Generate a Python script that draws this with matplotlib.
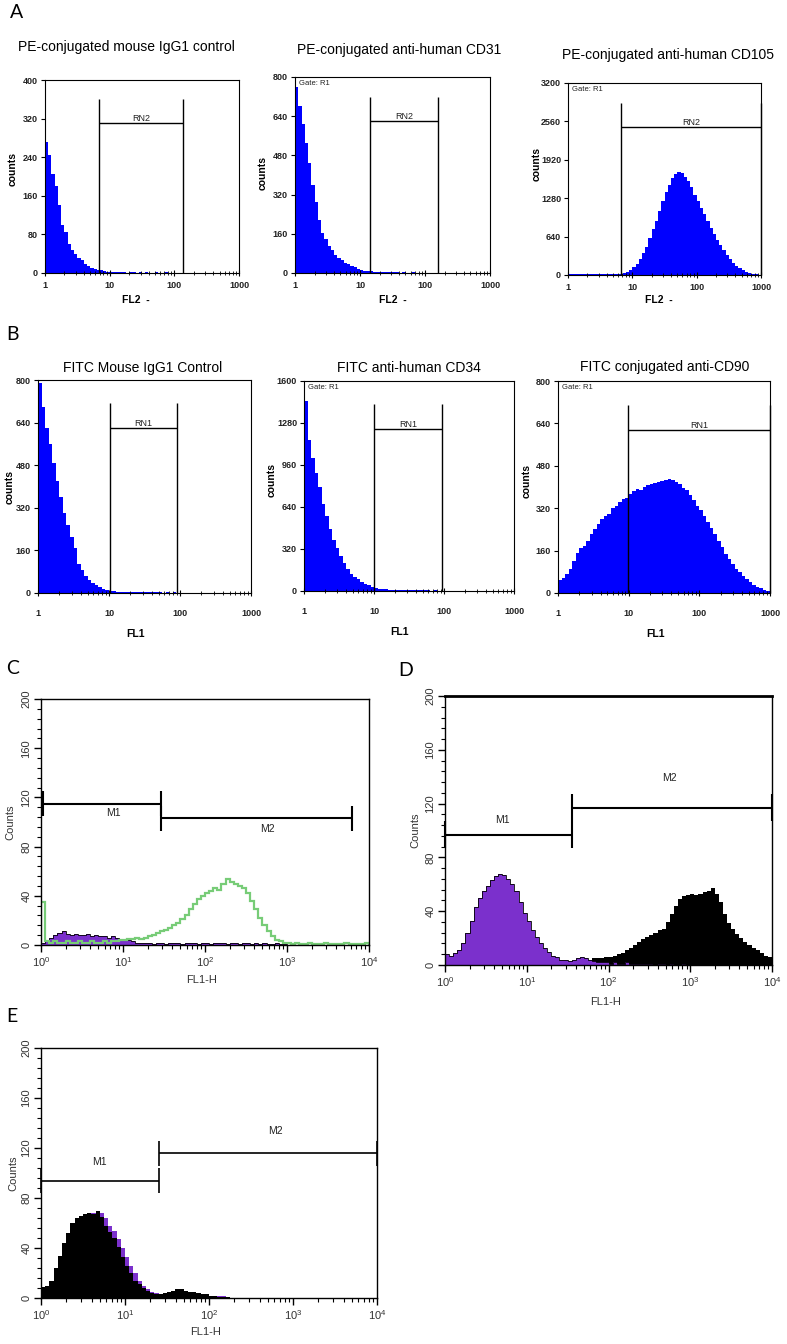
#!/usr/bin/env python

import numpy as np
import matplotlib
matplotlib.use("Agg")
import matplotlib.pyplot as plt
from matplotlib.ticker import MultipleLocator, LogLocator, NullFormatter

plt.rcParams["font.family"] = ["Liberation Sans", "DejaVu Sans"]
plt.rcParams["mathtext.fontset"] = "custom"
plt.rcParams["mathtext.rm"] = "Liberation Sans"

W, H = 787, 1344

# ---- data: histogram counts, bins of 0.05 decade starting at 1 ----
a1_counts = [272, 245, 205, 180, 140, 100, 85, 60, 48, 40,
             32, 26, 18, 15, 11, 9, 6, 7, 4, 3,
             3, 2, 3, 2, 2, 1, 2, 2, 1, 3,
             1, 2, 1, 1, 2, 1, 1, 2, 1, 1,
             1, 1, 0, 1, 1, 0, 1, 0, 1, 0,
             0, 1, 0, 0, 1, 0, 0, 0, 0, 0]
a2_counts = [760, 680, 610, 530, 450, 360, 290, 215, 165, 140,
             110, 92, 75, 62, 52, 42, 36, 28, 24, 16,
             12, 10, 8, 7, 5, 5, 4, 4, 3, 4,
             3, 3, 2, 3, 2, 2, 3, 2, 2, 1,
             2, 2, 1, 2, 1, 1, 1, 0, 1, 1,
             0, 1, 0, 0, 1, 0, 0, 1, 0, 0]
a3_counts = [15, 14, 15, 13, 14, 15, 14, 12, 14, 13,
             15, 14, 13, 15, 16, 18, 25, 40, 55, 85,
             130, 185, 260, 360, 470, 620, 760, 900, 1060, 1230,
             1380, 1500, 1610, 1690, 1720, 1700, 1640, 1560, 1460, 1340,
             1230, 1120, 1010, 900, 790, 680, 590, 500, 410, 330,
             260, 200, 150, 110, 80, 55, 35, 22, 12, 6]
b1_counts = [790, 700, 620, 560, 490, 420, 360, 300, 255, 210,
             170, 110, 88, 65, 50, 38, 30, 22, 16, 12,
             8, 6, 5, 5, 4, 4, 3, 4, 3, 3,
             2, 3, 2, 2, 2, 1, 2, 1, 2, 1,
             1, 1, 1, 1, 0, 1, 0, 1, 0, 0,
             1, 0, 0, 1, 0, 0, 0, 0, 0, 0]
b2_counts = [1450, 1150, 1010, 900, 790, 660, 570, 470, 390, 330,
             270, 215, 165, 130, 108, 88, 70, 56, 44, 34,
             26, 18, 14, 12, 10, 9, 8, 8, 7, 6,
             6, 5, 5, 4, 5, 4, 3, 4, 3, 3,
             2, 3, 2, 2, 2, 1, 2, 1, 1, 1,
             1, 0, 1, 0, 1, 0, 0, 1, 0, 0]
b3_counts = [50, 55, 72, 90, 120, 150, 168, 176, 195, 222,
             240, 262, 280, 292, 300, 320, 330, 345, 356, 360,
             372, 385, 392, 388, 400, 408, 412, 415, 418, 422,
             425, 430, 428, 420, 410, 398, 388, 370, 352, 330,
             312, 290, 268, 245, 222, 196, 172, 148, 130, 110,
             92, 78, 64, 52, 40, 32, 24, 17, 11, 6]

c_green = [35, 3, 2, 3, 2, 2, 3, 2, 2, 3,
           2, 2, 3, 2, 2, 3, 2, 3, 3, 4,
           4, 5, 5, 6, 5, 6, 7, 8, 10, 11,
           12, 14, 16, 18, 21, 24, 29, 33, 37, 40,
           42, 44, 46, 45, 50, 54, 51, 50, 48, 46,
           42, 36, 29, 22, 16, 11, 7, 4, 3, 2,
           2, 1, 2, 1, 1, 2, 1, 1, 1, 2,
           1, 1, 1, 1, 2, 1, 1, 1, 1, 2]
c_purple = [2, 3, 6, 8, 10, 11, 9, 8, 9, 8,
            8, 9, 7, 8, 7, 7, 6, 7, 6, 5,
            5, 4, 3, 2, 2, 2, 2, 1, 2, 2,
            1, 2, 2, 2, 1, 2, 2, 2, 1, 2,
            2, 1, 2, 2, 2, 1, 2, 2, 1, 2,
            2, 1, 2, 1, 2, 1, 1, 2, 1, 1,
            0, 1, 0, 0, 0, 0, 0, 0, 0, 0,
            0, 0, 0, 0, 0, 0, 0, 0, 0, 0]
d_purple = [8, 7, 9, 11, 16, 24, 33, 43, 50, 55,
            59, 63, 66, 68, 67, 64, 60, 55, 47, 39,
            33, 26, 21, 16, 13, 10, 7, 6, 4, 4,
            3, 4, 5, 6, 5, 4, 3, 2, 2, 2,
            1, 2, 1, 1, 2, 1, 1, 1, 1, 1,
            1, 0, 1, 1, 0, 1, 0, 0, 1, 0,
            0, 0, 0, 0, 0, 0, 0, 0, 0, 0,
            0, 0, 0, 0, 0, 0, 0, 0, 0, 0]
d_black = [1, 1, 1, 1, 1, 1, 1, 1, 1, 1,
           1, 1, 1, 1, 1, 1, 1, 1, 1, 1,
           1, 1, 1, 2, 2, 2, 3, 3, 3, 3,
           3, 3, 3, 4, 4, 4, 5, 5, 5, 6,
           6, 7, 8, 9, 11, 13, 15, 17, 19, 21,
           22, 24, 26, 27, 32, 38, 44, 49, 51, 52,
           53, 52, 53, 54, 55, 57, 53, 47, 38, 31,
           27, 23, 20, 17, 15, 13, 11, 9, 7, 6]
e_black = [9, 10, 14, 24, 34, 44, 52, 60, 64, 66,
           67, 68, 67, 70, 65, 58, 53, 48, 41, 33,
           26, 20, 14, 11, 8, 6, 4, 3, 3, 4,
           5, 6, 7, 7, 6, 5, 5, 4, 3, 3,
           2, 2, 1, 1, 1, 0, 0, 0, 0, 0,
           0, 0, 0, 0, 0, 0, 0, 0, 0, 0,
           0, 0, 0, 0, 0, 0, 0, 0, 0, 0,
           0, 0, 0, 0, 0, 0, 0, 0, 0, 0]
e_purple = [8, 9, 13, 22, 32, 42, 50, 58, 62, 64,
            66, 67, 68, 70, 68, 64, 58, 54, 47, 40,
            33, 26, 20, 14, 10, 7, 5, 4, 3, 4,
            5, 6, 7, 7, 6, 5, 4, 4, 3, 3,
            2, 2, 2, 2, 1, 0, 0, 0, 0, 0,
            0, 0, 0, 0, 0, 0, 0, 0, 0, 0,
            0, 0, 0, 0, 0, 0, 0, 0, 0, 0,
            0, 0, 0, 0, 0, 0, 0, 0, 0, 0]

# y tick labels
a1_yticks = [0, 80, 160, 240, 320, 400]
a2_yticks = [0, 160, 320, 480, 640, 800]
a3_yticks = [0, 640, 1280, 1920, 2560, 3200]
b1_yticks = [0, 160, 320, 480, 640, 800]
b2_yticks = [0, 320, 640, 960, 1280, 1600]
b3_yticks = [0, 160, 320, 480, 640, 800]
ab_xticks = [1, 10, 100, 1000]
ab_xlabels = ["1", "10", "100", "1000"]

# gates: (low, high, bar height, line top)
a1_gate = (6.8, 135, 311, 360)
a2_gate = (14.3, 158, 620, 718)
a3_gate = (6.7, 1000, 2467, 2867)
b1_gate = (10.3, 91, 620, 714)
b2_gate = (10, 93, 1234, 1425)
b3_gate = (9.8, 1000, 614, 711)

# markers M1 / M2: (low, high, level)
c_m1 = (1.06, 29, 115)
c_m2 = (29, 6200, 103)
d_m1 = (1.0, 36, 97)
d_m2 = (36, 10000, 117)
e_m1 = (1.0, 25.4, 94)
e_m2 = (25.4, 10000, 116)

edges3 = np.logspace(0, 3, len(a1_counts) + 1)
edges4 = np.logspace(0, 4, len(c_green) + 1)

blue = "#0000ff"
purple = "#7b30cc"
green = "#77cc77"


def px_axes(fig, x0, y0, x1, y1):
    return fig.add_axes([x0 / W, 1 - y1 / H, (x1 - x0) / W, (y1 - y0) / H])


def panel_ab(fig, box, counts, yticks, gate, name, xlab, title, title_xy,
             ylab_xy, xlab_xy, gate_r1, xpad):
    ax = px_axes(fig, *box)
    ax.stairs(counts, edges3, fill=True, color=blue, lw=0)
    ax.set_xscale("log")
    ax.set_xlim(1, 1000)
    ax.set_ylim(0, yticks[-1])
    ax.set_yticks(yticks)
    ax.set_yticklabels([str(t) for t in yticks], fontsize=6.5,
                       fontweight="bold", color="#222222")
    ax.set_xticks(ab_xticks)
    ax.set_xticklabels(ab_xlabels, fontsize=6.5, fontweight="bold",
                       color="#222222")
    ax.xaxis.set_minor_locator(LogLocator(base=10, subs=np.arange(2, 10),
                                          numticks=20))
    ax.xaxis.set_minor_formatter(NullFormatter())
    ax.tick_params(axis="x", which="major", direction="inout", length=5,
                   width=0.8, pad=xpad)
    ax.tick_params(axis="x", which="minor", direction="inout", length=3,
                   width=0.6)
    ax.tick_params(axis="y", direction="out", length=3, width=0.8, pad=2)
    for s in ax.spines.values():
        s.set_linewidth(0.8)

    lo, hi, bar, top = gate
    ax.vlines([lo, hi], 0, top, color="k", lw=1.0, clip_on=False)
    ax.hlines(bar, lo, hi, color="k", lw=1.0, clip_on=False)
    ax.text(np.sqrt(lo * hi), bar, name, ha="center", va="bottom",
            fontsize=6.5, color="#222222")
    if gate_r1:
        ax.text(0.02, 0.985, "Gate: R1", transform=ax.transAxes,
                ha="left", va="top", fontsize=5.5, color="#222222")

    ax.set_ylabel("counts", fontsize=7.5, fontweight="bold")
    ax.yaxis.set_label_coords(*ylab_xy)
    ax.set_xlabel(xlab, fontsize=7.5, fontweight="bold")
    ax.xaxis.set_label_coords(*xlab_xy)
    fig.text(title_xy[0] / W, 1 - title_xy[1] / H, title, ha="center",
             va="center", fontsize=10)
    return ax


def panel_cde(fig, box, ylab_xy, xlab_xy):
    ax = px_axes(fig, *box)
    ax.set_xscale("log")
    ax.set_xlim(1, 1e4)
    ax.set_ylim(0, 200)
    ax.yaxis.set_major_locator(MultipleLocator(40))
    ax.yaxis.set_minor_locator(MultipleLocator(8))
    ax.xaxis.set_major_locator(LogLocator(base=10, numticks=10))
    ax.xaxis.set_minor_locator(LogLocator(base=10, subs=np.arange(2, 10),
                                          numticks=40))
    ax.xaxis.set_minor_formatter(NullFormatter())
    ax.tick_params(which="major", direction="out", length=5, width=1.0,
                   labelsize=8, labelcolor="#333333", pad=2)
    ax.tick_params(which="minor", direction="out", length=3, width=0.8)
    ax.tick_params(axis="y", labelrotation=90)
    for lab in ax.get_yticklabels():
        lab.set_va("center")
    for s in ax.spines.values():
        s.set_linewidth(1.0)
    ax.set_ylabel("Counts", fontsize=8, color="#333333")
    ax.yaxis.set_label_coords(*ylab_xy)
    ax.set_xlabel("FL1-H", fontsize=8, color="#333333")
    ax.xaxis.set_label_coords(*xlab_xy)
    return ax


def marker(ax, m, label, lx, ly, lw=1.5):
    lo, hi, y = m
    ax.hlines(y, lo, hi, color="k", lw=lw, clip_on=False)
    ax.vlines([lo, hi], y - 10, y + 10, color="k", lw=lw, clip_on=False)
    ax.text(lx, ly, label, ha="center", va="center", fontsize=7.5,
            color="#222222")


def main():
    fig = plt.figure(figsize=(W / 100, H / 100), dpi=100)

    # ---- row A ----
    panel_ab(fig, (45, 80, 239, 273), a1_counts, a1_yticks, a1_gate, "RN2",
             "FL2  -", "PE-conjugated mouse IgG1 control", (126, 47),
             (-0.14, 0.54), (0.47, -0.115), False, 3)
    panel_ab(fig, (295, 77, 490, 273), a2_counts, a2_yticks, a2_gate, "RN2",
             "FL2  -", "PE-conjugated anti-human CD31", (399, 50),
             (-0.14, 0.51), (0.5, -0.112), True, 3)
    panel_ab(fig, (568, 83, 761, 275), a3_counts, a3_yticks, a3_gate, "RN2",
             "FL2  -", "PE-conjugated anti-human CD105", (668, 55),
             (-0.135, 0.58), (0.47, -0.104), True, 3)

    # ---- row B ----
    panel_ab(fig, (38, 380, 251, 593), b1_counts, b1_yticks, b1_gate, "RN1",
             "FL1", "FITC Mouse IgG1 Control", (143, 368),
             (-0.108, 0.5), (0.46, -0.17), False, 9)
    panel_ab(fig, (304, 381, 514, 591), b2_counts, b2_yticks, b2_gate, "RN1",
             "FL1", "FITC anti-human CD34", (409, 368),
             (-0.13, 0.53), (0.457, -0.17), True, 9)
    panel_ab(fig, (558, 381, 770, 593), b3_counts, b3_yticks, b3_gate, "RN1",
             "FL1", "FITC conjugated anti-CD90", (665, 367),
             (-0.123, 0.53), (0.46, -0.17), True, 9)

    # ---- C ----
    ax = panel_cde(fig, (41, 699, 369, 945), (-0.079, 0.5), (0.49, -0.122))
    ax.stairs(c_purple, edges4, fill=True, color=purple, lw=0)
    ax.stairs(c_purple, edges4, color="k", lw=0.6)
    ax.stairs(c_green, edges4, color=green, lw=1.6)
    marker(ax, c_m1, "M1", 7.6, 107)
    marker(ax, c_m2, "M2", 575, 94)

    # ---- D ----
    ax = panel_cde(fig, (445, 696, 772, 965), (-0.076, 0.5), (0.49, -0.119))
    ax.spines["top"].set_linewidth(2.0)
    ax.stairs(d_black, edges4, fill=True, color="k", lw=0)
    ax.stairs(d_purple, edges4, fill=True, color=purple, lw=0)
    ax.stairs(d_purple, edges4, color="k", lw=0.6)
    marker(ax, d_m1, "M1", 5.0, 108)
    marker(ax, d_m2, "M2", 562, 139)

    # ---- E ----
    ax = panel_cde(fig, (41, 1048, 377, 1298), (-0.068, 0.5), (0.49, -0.116))
    ax.stairs(e_purple, edges4, fill=True, color=purple, lw=0)
    ax.stairs(e_black, edges4, fill=True, color="k", lw=0)
    marker(ax, e_m1, "M1", 5.0, 109, lw=1.2)
    marker(ax, e_m2, "M2", 617, 134, lw=1.2)

    # panel letters
    for letter, x, y in [("A", 17, 12), ("B", 13, 334), ("C", 13, 668),
                         ("D", 406, 670), ("E", 12, 1017)]:
        fig.text(x / W, 1 - y / H, letter, ha="center", va="center",
                 fontsize=14, family="Lato")

    fig.savefig("out.png", dpi=100)


if __name__ == "__main__":
    main()
